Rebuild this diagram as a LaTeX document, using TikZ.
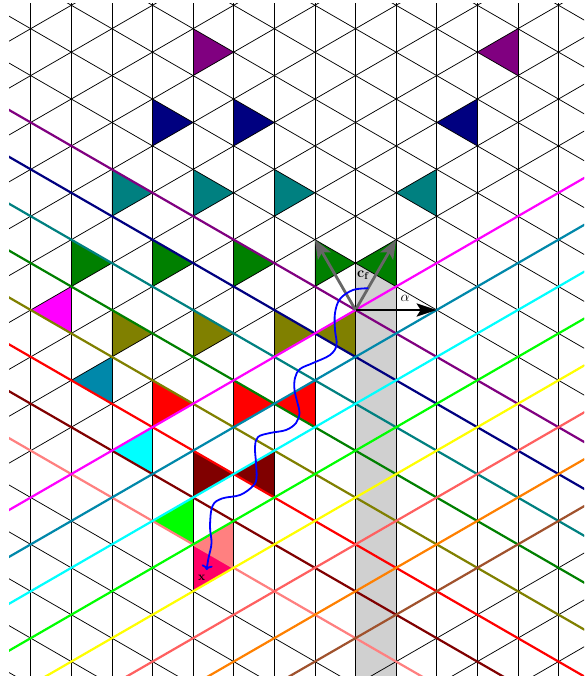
\documentclass[tikz,border=0pt]{standalone}
\usetikzlibrary{arrows.meta}
\definecolor{cPurple}{HTML}{800080}
\definecolor{cNavy}{HTML}{000080}
\definecolor{cTeal}{HTML}{008080}
\definecolor{cGreen}{HTML}{008000}
\definecolor{cOlive}{HTML}{808000}
\definecolor{cRed}{HTML}{FF0000}
\definecolor{cMaroon}{HTML}{800000}
\definecolor{cSalmon}{HTML}{FF8080}
\definecolor{cMagenta}{HTML}{FF00FF}
\definecolor{cCerulean}{HTML}{0088AA}
\definecolor{cCyan}{HTML}{00FFFF}
\definecolor{cLime}{HTML}{00FF00}
\definecolor{cYellow}{HTML}{FFFF00}
\definecolor{cRose}{HTML}{FF6060}
\definecolor{cOrange}{HTML}{FF8000}
\definecolor{cBrown}{HTML}{A0522D}
\definecolor{cPink}{HTML}{FF0066}
\definecolor{cStrip}{HTML}{D0D0D0}
\definecolor{cArrowGray}{HTML}{666666}
\begin{document}
\begin{tikzpicture}[x={(40.6pt,0pt)}, y={(0pt,-23.44pt)},
  latt/.style={line width=0.75pt, black},
  cline/.style={line width=2.2pt},
  grayarrow/.style={line width=2.8pt, cArrowGray, -{Stealth[length=19pt,width=15pt,inset=4.5pt]}},
  blackarrow/.style={line width=2.8pt, black, -{Stealth[length=20pt,width=13pt,inset=4pt]}},
  bluecurve/.style={line width=1.8pt, blue, -{To[length=5pt,width=11pt]}},
  lbl/.style={inner sep=0pt, font=\Large},
  lbls/.style={inner sep=0pt, font=\large}]
\useasboundingbox (-0.7562,-1.2244) rectangle (13.628,27.615);
\begin{scope}
\clip (-0.5345,-1.054) rectangle (13.628,27.615);
% gray strip
\fill[cStrip] (8,10) -- (9,11) -- (9,28) -- (8,28) -- cycle;
% coloured triangles
\foreach \c/\i/\m/\t in {
  cPurple/4/0/5, cPurple/12/0/11,
  cNavy/3/3/4, cNavy/5/3/6, cNavy/11/3/10,
  cTeal/2/6/3, cTeal/4/6/5, cTeal/6/6/7, cTeal/10/6/9,
  cGreen/1/9/2, cGreen/3/9/4, cGreen/5/9/6, cGreen/7/9/8, cGreen/9/9/8,
  cMagenta/1/11/0,
  cOlive/2/12/3, cOlive/4/12/5, cOlive/6/12/7, cOlive/8/12/7,
  cCerulean/2/14/1,
  cRed/3/15/4, cRed/5/15/6, cRed/7/15/6,
  cCyan/3/17/2,
  cMaroon/4/18/5, cMaroon/6/18/5,
  cLime/4/20/3,
  cSalmon/5/21/4,
  cPink/4/22/5}
  \fill[\c] (\i,\m) -- (\i,\m+2) -- (\t,\m+1) -- cycle;
% lattice
\foreach \i in {0,...,13} \draw[latt] (\i,-2) -- (\i,29);
\foreach \c in {-16,-14,...,30} \draw[latt] (-1,\c-1) -- (15,\c+15);
\foreach \c in {0,2,...,44} \draw[latt] (-1,\c+1) -- (15,\c-15);
% coloured lines
\foreach \c/\col in {4/cPurple,6/cNavy,8/cTeal,10/cGreen,12/cOlive,14/cRed,16/cMaroon,18/cSalmon}
  \draw[cline,\col] (-1,\c-1) -- (15,\c+15);
\foreach \c/\col in {20/cMagenta,22/cCerulean,24/cCyan,26/cLime,28/cYellow,30/cRose,32/cOrange,34/cBrown}
  \draw[cline,\col] (-1,\c+1) -- (15,\c-15);
\end{scope}
% arrows
\coordinate (O) at (8,12);
\coordinate (CL) at (7,9);
\coordinate (CR) at (9,9);
\coordinate (AL) at (10,12);
\draw[grayarrow] (O) -- (CL);
\draw[grayarrow] (O) -- (CR);
\draw[blackarrow] (O) -- (AL);
\node[lbl] (cf) at (8.19,10.52) {$\mathbf{c_f}$};
\node[lbl] (al) at (9.22,11.5) {$\alpha$};
\node[lbls] (xl) at (4.21,23.42) {$\mathbf{x}$};
% blue curve (pixel coordinates)
\begin{scope}[shift={(-30.7pt,28.7pt)}, x=1pt, y=-1pt]
\draw[bluecurve] plot[smooth, tension=0.6] coordinates {
 (368.3,288.3) (353,290) (340,299) (335,313) (335,330) (336.5,345) (330,355)
 (313,363) (300,369) (295,378) (294.5,390) (297.5,403) (299.5,413) (296,423)
 (286,430) (270,433) (258,437) (255,447) (256,463) (256.5,478) (253,486)
 (240,495) (222,498.5) (212.5,506) (210,526) (211.5,543) (208.5,558) (206.5,570)};
\end{scope}
\end{tikzpicture}
\end{document}
